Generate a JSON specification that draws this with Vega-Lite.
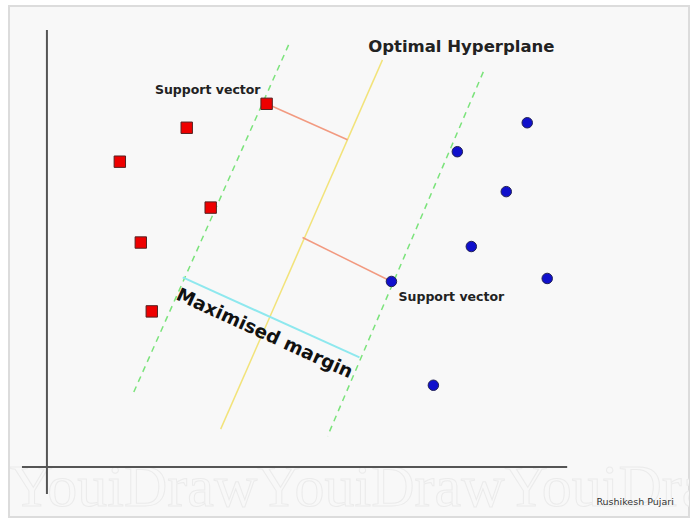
{
  "$schema": "https://vega.github.io/schema/vega-lite/v6.json",
  "width": 690,
  "height": 518,
  "autosize": {"type": "fit", "contains": "padding"},
  "padding": 0,
  "background": "#ffffff",
  "config": {"view": {"stroke": null}},
  "layer": [
    {
      "data": {"values": [{"x": 9, "y": 6, "x2": 690, "y2": 518}]},
      "mark": {"type": "rect", "fill": "#f8f8f8", "stroke": "#dcdcdc", "strokeWidth": 2},
      "encoding": {
        "x": {"field": "x", "type": "quantitative", "scale": {"domain": [0, 690], "nice": false, "zero": false}, "axis": null},
        "y": {"field": "y", "type": "quantitative", "scale": {"domain": [0, 518], "nice": false, "zero": false, "reverse": true}, "axis": null},
        "x2": {"field": "x2"},
        "y2": {"field": "y2"}
      }
    },
    {
      "data": {"values": [{"label": "YouiDrawYouiDrawYouiDra", "x": 10, "y": 507}]},
      "mark": {"type": "text", "clip": true, "font": "Liberation Serif", "fontSize": 60, "align": "left", "baseline": "alphabetic", "fill": "#f8f8f8", "stroke": "#ebebeb", "strokeWidth": 1},
      "encoding": {
        "x": {"field": "x", "type": "quantitative"},
        "y": {"field": "y", "type": "quantitative"},
        "text": {"field": "label"}
      }
    },
    {
      "data": {"values": [
        {"x": 47, "y": 30, "x2": 47, "y2": 495},
        {"x": 22, "y": 468, "x2": 568, "y2": 468}
      ]},
      "mark": {"type": "rule", "stroke": "#555555", "strokeWidth": 2},
      "encoding": {
        "x": {"field": "x", "type": "quantitative"},
        "y": {"field": "y", "type": "quantitative"},
        "x2": {"field": "x2"},
        "y2": {"field": "y2"}
      }
    },
    {
      "data": {"values": [
        {"x": 289, "y": 45, "x2": 133, "y2": 395},
        {"x": 484, "y": 72, "x2": 328, "y2": 437}
      ]},
      "mark": {"type": "rule", "stroke": "#7be37b", "strokeWidth": 1.5, "strokeDash": [6, 5]},
      "encoding": {
        "x": {"field": "x", "type": "quantitative"},
        "y": {"field": "y", "type": "quantitative"},
        "x2": {"field": "x2"},
        "y2": {"field": "y2"}
      }
    },
    {
      "data": {"values": [{"x": 383, "y": 60, "x2": 221, "y2": 430}]},
      "mark": {"type": "rule", "stroke": "#f2e37a", "strokeWidth": 1.5},
      "encoding": {
        "x": {"field": "x", "type": "quantitative"},
        "y": {"field": "y", "type": "quantitative"},
        "x2": {"field": "x2"},
        "y2": {"field": "y2"}
      }
    },
    {
      "data": {"values": [
        {"x": 267, "y": 104, "x2": 348, "y2": 140},
        {"x": 303, "y": 238, "x2": 392, "y2": 282}
      ]},
      "mark": {"type": "rule", "stroke": "#f29a80", "strokeWidth": 1.5},
      "encoding": {
        "x": {"field": "x", "type": "quantitative"},
        "y": {"field": "y", "type": "quantitative"},
        "x2": {"field": "x2"},
        "y2": {"field": "y2"}
      }
    },
    {
      "data": {"values": [{"x": 183, "y": 278, "x2": 360, "y2": 358}]},
      "mark": {"type": "rule", "stroke": "#8ee8ee", "strokeWidth": 2},
      "encoding": {
        "x": {"field": "x", "type": "quantitative"},
        "y": {"field": "y", "type": "quantitative"},
        "x2": {"field": "x2"},
        "y2": {"field": "y2"}
      }
    },
    {
      "data": {"values": [
        {"x": 267, "y": 104}, {"x": 187, "y": 128}, {"x": 120, "y": 162},
        {"x": 211, "y": 208}, {"x": 141, "y": 243}, {"x": 152, "y": 312}
      ]},
      "mark": {"type": "square", "size": 130, "fill": "#ee0000", "fillOpacity": 1, "stroke": "#552222", "strokeWidth": 1},
      "encoding": {
        "x": {"field": "x", "type": "quantitative"},
        "y": {"field": "y", "type": "quantitative"}
      }
    },
    {
      "data": {"values": [
        {"x": 528, "y": 123}, {"x": 458, "y": 152}, {"x": 507, "y": 192},
        {"x": 472, "y": 247}, {"x": 548, "y": 279}, {"x": 392, "y": 282},
        {"x": 434, "y": 386}
      ]},
      "mark": {"type": "circle", "size": 110, "fill": "#1010cc", "fillOpacity": 1, "stroke": "#222255", "strokeWidth": 1},
      "encoding": {
        "x": {"field": "x", "type": "quantitative"},
        "y": {"field": "y", "type": "quantitative"}
      }
    },
    {
      "data": {"values": [
        {"label": "Optimal Hyperplane", "x": 462, "y": 47, "size": 16.5},
        {"label": "Support vector", "x": 208, "y": 90, "size": 12.5},
        {"label": "Support vector", "x": 452, "y": 298, "size": 12.5}
      ]},
      "mark": {"type": "text", "font": "DejaVu Sans", "fontWeight": "bold", "align": "center", "baseline": "middle", "fill": "#222222"},
      "encoding": {
        "x": {"field": "x", "type": "quantitative"},
        "y": {"field": "y", "type": "quantitative"},
        "text": {"field": "label"},
        "size": {"field": "size", "type": "quantitative", "scale": null}
      }
    },
    {
      "data": {"values": [{"label": "Maximised margin", "x": 265, "y": 334}]},
      "mark": {"type": "text", "font": "DejaVu Sans", "fontWeight": "bold", "fontSize": 18.5, "angle": 24.5, "align": "center", "baseline": "middle", "fill": "#111111"},
      "encoding": {
        "x": {"field": "x", "type": "quantitative"},
        "y": {"field": "y", "type": "quantitative"},
        "text": {"field": "label"}
      }
    },
    {
      "data": {"values": [{"label": "Rushikesh Pujari", "x": 636, "y": 503}]},
      "mark": {"type": "text", "font": "DejaVu Sans", "fontSize": 9.5, "align": "center", "baseline": "middle", "fill": "#333333"},
      "encoding": {
        "x": {"field": "x", "type": "quantitative"},
        "y": {"field": "y", "type": "quantitative"},
        "text": {"field": "label"}
      }
    }
  ]
}
